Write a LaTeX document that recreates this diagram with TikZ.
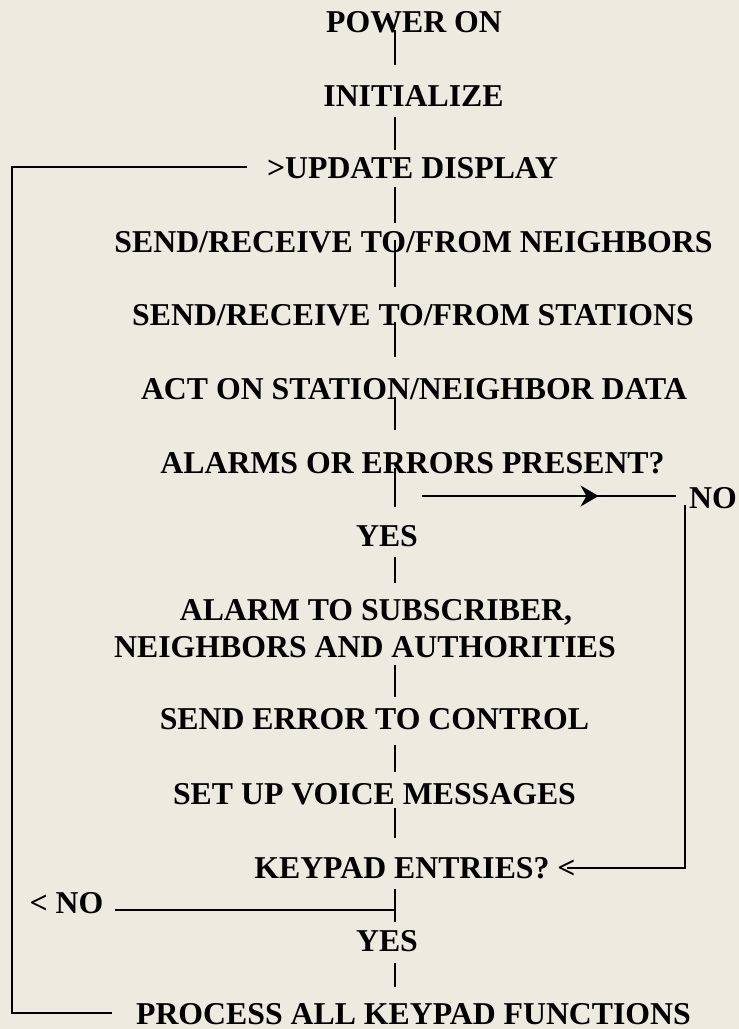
\documentclass[tikz,border=0pt]{standalone}
\usepackage{fontspec}
\setmainfont{Liberation Serif}
\usetikzlibrary{calc,arrows.meta,decorations.markings}
\definecolor{bg}{RGB}{237,234,224}
\newcommand\spineseg[4]{\draw[vline] ($(#1.base -| sp)+(0,#2)$) -- ($(#3.base -| sp)+(0,#4)$);}
\begin{document}
\begin{tikzpicture}[x=1bp,y=-1bp,
  lbl/.style={anchor=base,inner sep=0pt,text depth=0pt,font=\bfseries\fontsize{31.9pt}{36pt}\selectfont},
  vline/.style={line width=1.8bp},
  hline/.style={line width=2.8bp},
  midarrow/.style={postaction={decorate},decoration={markings,
    mark=at position 0.695 with {\arrow{Stealth[length=18bp,width=21bp,inset=6bp]}}}}]
\fill[bg] (0,0) rectangle (739,1029);
\useasboundingbox (0,0) rectangle (739,1029);
\coordinate (sp) at (395,0);
\coordinate (lx) at (12,0);

\node[lbl] (pwr) at (414,32) {POWER ON};
\node[lbl] (init) at (413.5,106) {INITIALIZE};
\node[lbl] (upd) at (412.5,178) {>UPDATE DISPLAY};
\node[lbl] (srn) at (413.5,252) {SEND/RECEIVE TO/FROM NEIGHBORS};
\node[lbl] (srs) at (413,325) {SEND/RECEIVE TO/FROM STATIONS};
\node[lbl] (act) at (414,399) {ACT ON STATION/NEIGHBOR DATA};
\node[lbl] (alm) at (412.5,473) {ALARMS OR ERRORS PRESENT?};
\node[lbl] (no1) at (713,508) {NO};
\node[lbl] (yes1) at (387,546) {YES};
\node[lbl] (al1) at (376,620) {ALARM TO SUBSCRIBER,};
\node[lbl] (al2) at (365,657) {NEIGHBORS AND AUTHORITIES};
\node[lbl] (err) at (374.5,729) {SEND ERROR TO CONTROL};
\node[lbl] (voice) at (374.5,804) {SET UP VOICE MESSAGES};
\node[lbl] (kp) at (415,878) {KEYPAD ENTRIES? <};
\node[lbl] (no2) at (66.5,913) {< NO};
\node[lbl] (yes2) at (387,951) {YES};
\node[lbl] (proc) at (413.5,1024) {PROCESS ALL KEYPAD FUNCTIONS};

% spine
\spineseg{pwr}{-2}{init}{-41}
\spineseg{init}{11}{upd}{-28}
\spineseg{upd}{9}{srn}{-29}
\spineseg{srn}{-12}{srs}{-38}
\spineseg{srs}{-3}{act}{-42}
\spineseg{act}{-2}{alm}{-43}
\spineseg{alm}{-5}{yes1}{-39}
\spineseg{yes1}{11}{al1}{-37}
\spineseg{al2}{8}{err}{-32}
\spineseg{err}{16}{voice}{-32}
\spineseg{voice}{4}{kp}{-40}
\spineseg{kp}{11}{yes2}{-29}
\spineseg{yes2}{12}{proc}{-37}

% NO branch of alarms
\draw[hline,midarrow] ($(sp |- no1.base)+(27,-12)$) -- ($(no1.base west)+(-13,-12)$);
\draw[hline] ($(no1.base west)+(-4,-3)$) |- ($(kp.base east)+(-9,-10)$);

% NO branch of keypad
\draw[hline] ($(sp |- no2.base)+(0,-3)$) -- ($(no2.base east)+(11,-3)$);

% loop back
\draw[hline] ($(proc.base west)+(-24,-11)$) -| ($(lx |- upd.base)+(0,-11)$) -- ($(upd.base west)+(-20,-11)$);
\end{tikzpicture}
\end{document}
